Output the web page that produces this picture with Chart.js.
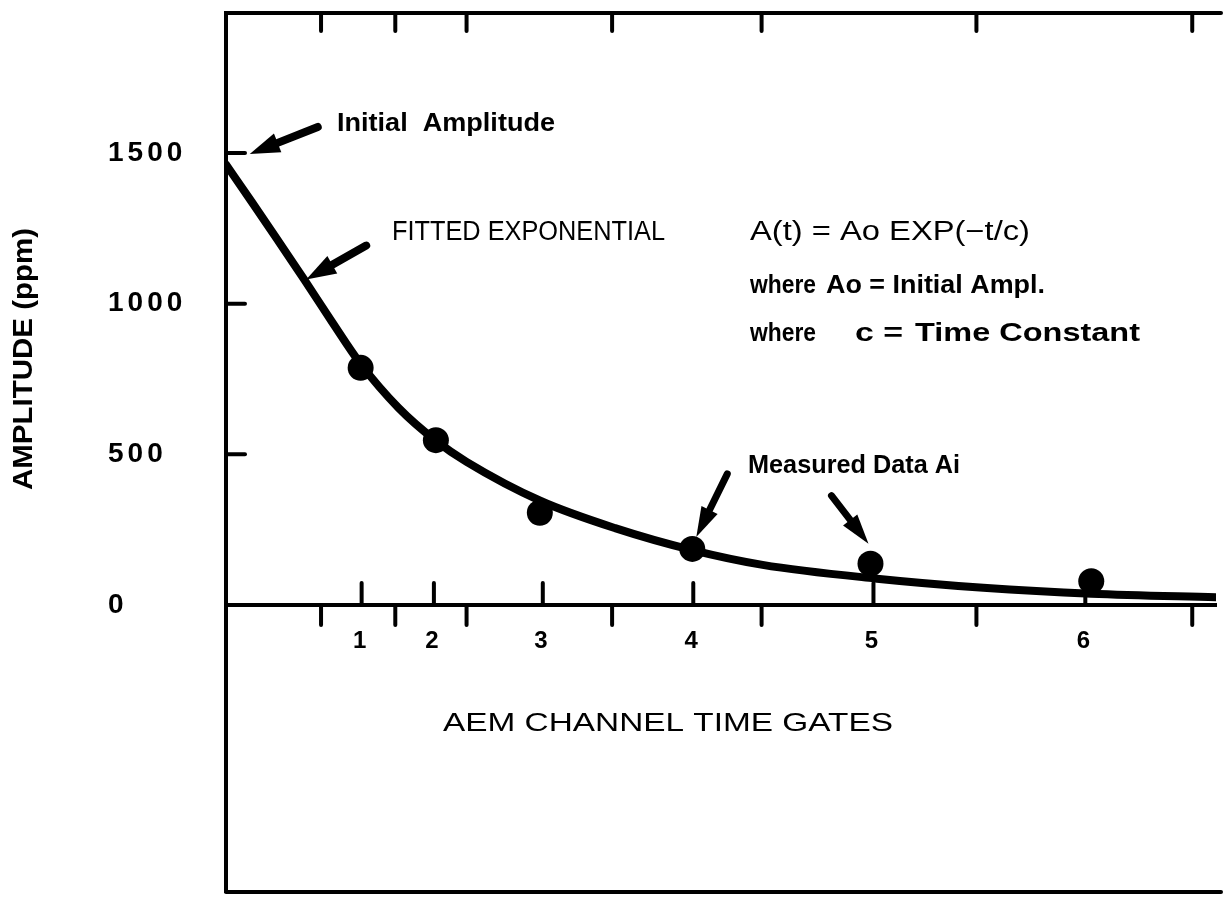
<!DOCTYPE html>
<html><head><meta charset="utf-8">
<script src="https://cdn.jsdelivr.net/npm/chart.js@4/dist/chart.umd.min.js"></script>
<style>html,body{margin:0;padding:0;background:#fff;overflow:hidden}#wrap{width:1229px;height:905px;position:relative}</style>
</head><body><div id="wrap"><canvas id="c" width="1229" height="905"></canvas></div>
<script>
// ---- data ----
const gateLabels = ['1', '2', '3', '4', '5', '6'];
const gateTimes = [1.37, 2.10, 3.20, 4.72, 6.54, 8.68];
const minorTimes = [0.96, 1.71, 2.43, 3.90, 5.41, 7.58, 9.76];
const measuredTimes = [1.36, 2.12, 3.17, 4.71, 6.51, 8.74];
const measuredAmp = [787, 547, 306, 186, 137, 79];
const fitTimes = [0, 0.26, 0.52, 0.79, 1.07, 1.36, 1.74, 2.12, 2.43, 3.18, 3.93, 4.71, 5.42, 6.55, 7.65, 8.74, 10.05];
const fitAmp = [1462, 1338, 1212, 1080, 940, 800, 655, 545, 475, 345, 255, 182, 133, 88, 57, 37, 25];
const yTickValues = [0, 500, 1000, 1500];

const FONT = "'Liberation Sans', Arial, Helvetica, sans-serif";
Chart.defaults.font.family = FONT;
Chart.defaults.color = '#000';

function line(c, x1, y1, x2, y2) { c.beginPath(); c.moveTo(x1, y1); c.lineTo(x2, y2); c.stroke(); }
function scaledText(c, str, x, y, font, s) {
  c.save();
  c.font = font;
  c.textAlign = 'left'; c.textBaseline = 'alphabetic';
  c.translate(x, y);
  c.scale(s, 1);
  c.fillText(str, 0, 0);
  c.restore();
}
function fitText(c, str, x, y, font, width) {
  c.save(); c.font = font; const w = c.measureText(str).width; c.restore();
  scaledText(c, str, x, y, font, width / w);
  return width / w;
}
function arrow(c, x1, y1, x2, y2, shaft, headLen, headW) {
  const a = Math.atan2(y2 - y1, x2 - x1);
  const bx = x2 - headLen * Math.cos(a), by = y2 - headLen * Math.sin(a);
  c.lineWidth = shaft; c.lineCap = 'round';
  line(c, x1, y1, bx, by);
  c.beginPath();
  c.moveTo(x2, y2);
  c.lineTo(bx + headW / 2 * Math.sin(a), by - headW / 2 * Math.cos(a));
  c.lineTo(bx - headW / 2 * Math.sin(a), by + headW / 2 * Math.cos(a));
  c.closePath(); c.fill();
}

const overlay = {
  id: 'overlay',
  beforeDraw(chart) { chart.ctx.letterSpacing = '4px'; },
  afterDraw(chart) {
    const c = chart.ctx;
    c.letterSpacing = '0px';
    const { left, right, top, bottom } = chart.chartArea;
    const xs = chart.scales.x, ys = chart.scales.y;
    const y0 = ys.getPixelForValue(0);
    c.save();
    c.strokeStyle = '#000'; c.fillStyle = '#000'; c.lineCap = 'round';
    // frame
    c.lineWidth = 4;
    line(c, left, top, right + 5, top);
    line(c, left, bottom, right + 5, bottom);
    // tick marks
    minorTimes.forEach(t => { const x = xs.getPixelForValue(t); line(c, x, top, x, top + 18); });
    minorTimes.forEach(t => { const x = xs.getPixelForValue(t); line(c, x, y0, x, y0 + 20); });
    gateTimes.forEach(t => { const x = xs.getPixelForValue(t); line(c, x, y0, x, y0 - 22); });
    yTickValues.forEach(v => { const y = ys.getPixelForValue(v); line(c, left, y, left + 19, y); });

    // arrows (anchored to values through the scales)
    const pInit = { x: xs.getPixelForValue(0.24), y: ys.getPixelForValue(1497) };
    arrow(c, pInit.x + 68, pInit.y - 27, pInit.x, pInit.y, 8, 30, 20);
    const pFit = { x: xs.getPixelForValue(0.79), y: ys.getPixelForValue(1080) };
    arrow(c, pFit.x + 62, pFit.y - 34, pFit.x + 2, pFit.y, 8, 30, 20);
    const p4 = { x: xs.getPixelForValue(measuredTimes[3]) + 4, y: ys.getPixelForValue(measuredAmp[3]) - 12 };
    arrow(c, p4.x + 31, p4.y - 63, p4.x, p4.y, 7, 30, 18);
    const p5 = { x: xs.getPixelForValue(measuredTimes[4]) - 2, y: ys.getPixelForValue(measuredAmp[4]) - 20 };
    arrow(c, p5.x - 37, p5.y - 48, p5.x, p5.y, 7, 30, 18);

    // annotation texts
    const B = 'bold 26px ' + FONT, R = '27px ' + FONT, B25 = 'bold 25px ' + FONT;
    fitText(c, 'Initial  Amplitude', 337, 131, B, 218);
    fitText(c, 'FITTED EXPONENTIAL', 392, 240, R, 273);
    fitText(c, 'A(t) = Ao EXP(\u2212t/c)', 750, 240, R, 280);
    fitText(c, 'where', 750, 293, B25, 66);
    fitText(c, 'Ao = Initial Ampl.', 826, 293, B25, 219);
    fitText(c, 'where', 750, 341, B25, 66);
    fitText(c, 'c =', 855, 341, B25, 48);
    fitText(c, 'Time Constant', 915, 341, B25, 225);
    fitText(c, 'Measured Data Ai', 748, 473, B25, 212);
    fitText(c, 'AEM CHANNEL TIME GATES', 443, 731, '26px ' + FONT, 450);
    // y title (rotated)
    c.save();
    c.translate(32, 490);
    c.rotate(-Math.PI / 2);
    fitText(c, 'AMPLITUDE (ppm)', 0, 0, 'bold 27px ' + FONT, 262);
    c.restore();
    c.restore();
  }
};

new Chart(document.getElementById('c'), {
  type: 'scatter',
  data: {
    datasets: [
      {
        type: 'line', label: 'Fitted exponential',
        data: fitTimes.map((t, i) => ({ x: t, y: fitAmp[i] })),
        borderColor: '#000', borderWidth: 8, pointRadius: 0,
        cubicInterpolationMode: 'monotone', fill: false, order: 2, borderCapStyle: 'round'
      },
      {
        type: 'scatter', label: 'Measured data',
        data: measuredTimes.map((t, i) => ({ x: t, y: measuredAmp[i] })),
        backgroundColor: '#000', borderColor: '#000', pointRadius: 13, borderWidth: 0, order: 1
      }
    ]
  },
  options: {
    responsive: false, animation: false, devicePixelRatio: 1,
    layout: { padding: { left: 108, top: 11, right: 0, bottom: 3 } },
    plugins: { legend: { display: false }, tooltip: { enabled: false } },
    scales: {
      x: {
        type: 'linear', position: { y: 0 }, min: 0, max: 10,
        afterBuildTicks: (sc) => { sc.ticks = gateTimes.map(v => ({ value: v })); },
        ticks: {
          autoSkip: false, maxRotation: 0, padding: 22,
          font: { size: 24, weight: 'bold' }, color: '#000',
          callback: (v, i) => gateLabels[i]
        },
        grid: { display: true, drawOnChartArea: false, drawTicks: false },
        border: { display: true, color: '#000', width: 4 }
      },
      y: {
        type: 'linear', position: 'left', min: -953, max: 1965,
        afterBuildTicks: (sc) => { sc.ticks = yTickValues.map(v => ({ value: v })); },
        afterFit: (sc) => { sc.width = 118; sc.paddingTop = 0; sc.paddingBottom = 0; },
        ticks: {
          crossAlign: 'far', padding: 10,
          font: { size: 28, weight: 'bold' }, color: '#000',
          callback: (v) => String(v)
        },
        grid: { display: true, drawOnChartArea: false, drawTicks: false },
        border: { display: true, color: '#000', width: 4 }
      }
    }
  },
  plugins: [overlay]
});
</script>
</body></html>
